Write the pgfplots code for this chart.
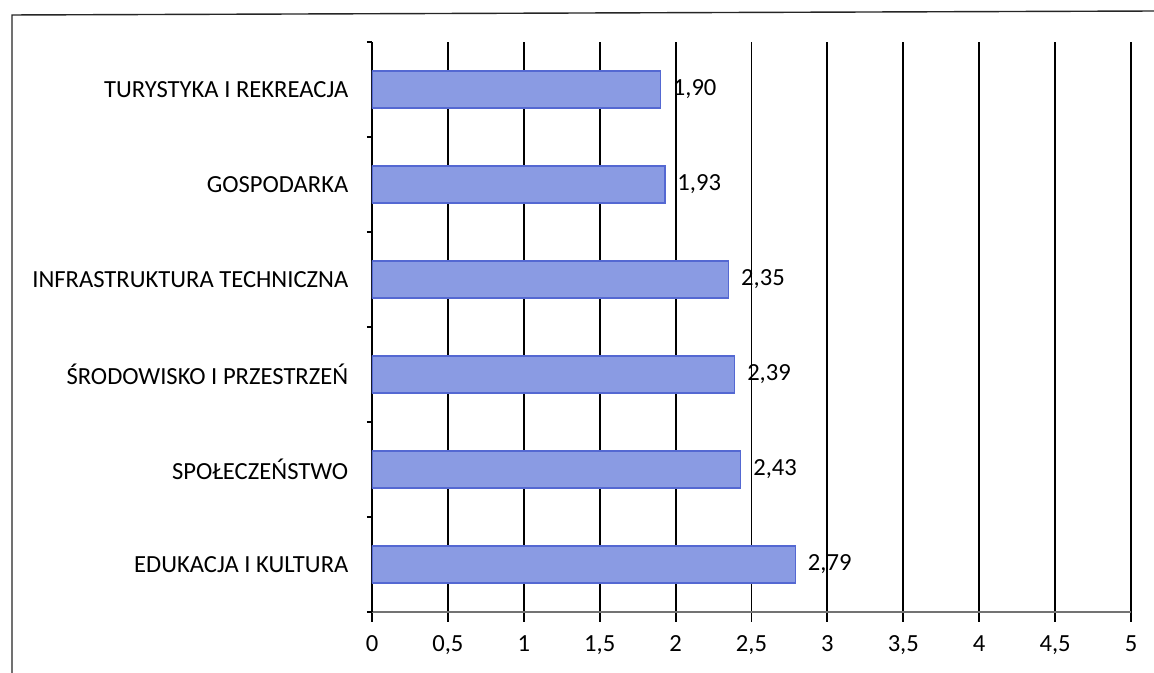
\documentclass[border=0pt]{standalone}
\usepackage{pgfplots}
\pgfplotsset{compat=1.18}
\usepackage{fontspec}
\setmainfont{Carlito}
\definecolor{barfill}{HTML}{8A9BE3}
\definecolor{baredge}{HTML}{5468D2}

\begin{document}
\begin{tikzpicture}
% page = 1154 x 673 px at 0.02cm per px
\path[use as bounding box, fill=white] (0,0) rectangle (23.08cm,13.46cm);
\draw[line width=0.8pt, black!85] (0.24cm,-0.1cm) -- (0.24cm,13.16cm) -- (23.2cm,13.24cm);
\begin{axis}[
    at={(7.44cm,1.22cm)}, anchor=south west,
    width=15.18cm, height=11.4cm, scale only axis,
    xbar, bar width=0.74cm,
    xmin=0, xmax=5, ymin=-0.5, ymax=5.5,
    axis x line*=bottom, axis y line*=left,
    x axis line style={black!55, line width=0.8pt},
    y axis line style={black, line width=0.8pt},
    xtick={0,0.5,...,5},
    xmajorgrids, major grid style={black, line width=1.1pt},
    x tick style={black, line width=1.1pt},
    tick align=outside, major tick length=0.2cm,
    ytick={0,...,5},
    yticklabels={EDUKACJA I KULTURA, SPOŁECZEŃSTWO, ŚRODOWISKO I PRZESTRZEŃ,
                 INFRASTRUKTURA TECHNICZNA, GOSPODARKA, TURYSTYKA I REKREACJA},
    y tick style={draw=none},
    extra y ticks={-0.5,0.5,...,5.5},
    extra y tick labels={},
    extra y tick style={y tick style={draw=black, line width=0.6pt}, major tick length=0.1cm},
    ticklabel style={font=\fontsize{14}{16}\selectfont, text=black},
    yticklabel style={xshift=-0.15cm},
    xticklabel style={yshift=-0.15cm},
    /pgf/number format/.cd, use comma, fixed, assume math mode=true,
  ]
\addplot[draw=baredge, fill=barfill, line width=0.7pt,
    nodes near coords={\pgfmathprintnumber[fixed, fixed zerofill, precision=2, use comma]{\pgfplotspointmeta}},
    nodes near coords align=horizontal,
    every node near coord/.append style={font=\fontsize{14}{16}\selectfont, text=black, xshift=0.12cm}]
  coordinates {
    (2.79,0)
    (2.43,1)
    (2.39,2)
    (2.35,3)
    (1.93,4)
    (1.90,5)
  };
\end{axis}
\end{tikzpicture}
\end{document}
